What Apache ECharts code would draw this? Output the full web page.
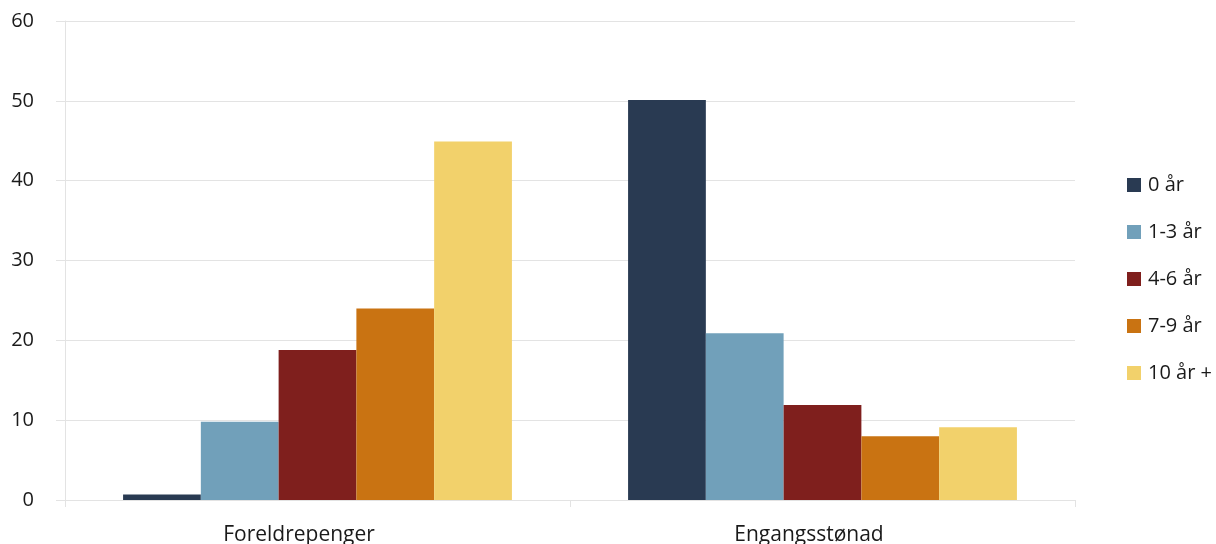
<!DOCTYPE html>
<html>
<head>
<meta charset="utf-8">
<script src="https://cdn.jsdelivr.net/npm/echarts@6/dist/echarts.min.js"></script>
<style>
html,body{margin:0;padding:0;background:#fff;}
#c{width:1216px;height:544px;}
</style>
</head>
<body>
<div id="c"></div>
<script>
const categories = ['Foreldrepenger', 'Engangsstønad'];
const seriesNames = ['0 år', '1-3 år', '4-6 år', '7-9 år', '10 år +'];
const s0 = [0.7, 50.1];
const s1 = [9.8, 20.9];
const s2 = [18.8, 11.9];
const s3 = [24.0, 8.0];
const s4 = [44.9, 9.1];
const colors = ['#293a52', '#71a0ba', '#7f1f1d', '#c97312', '#f2d16b'];
const values = [s0, s1, s2, s3, s4];
const labelShift = [37, 27];

const font = '"Open Sans", "Noto Sans", sans-serif';
const chart = echarts.init(document.getElementById('c'), null, {renderer: 'canvas'});
chart.setOption({
  animation: false,
  textStyle: {fontFamily: font},
  grid: {left: 65, right: 141, top: 21, bottom: 44, containLabel: false, outerBoundsMode: 'none'},
  legend: {
    orient: 'vertical',
    left: 1127,
    top: 175,
    padding: 0,
    itemWidth: 14,
    itemHeight: 14,
    itemGap: 27,
    icon: 'rect',
    textStyle: {fontFamily: font, fontSize: 20, lineHeight: 20, color: '#1a1a1a', padding: [0, 0, 0, 2]},
    data: seriesNames
  },
  xAxis: {
    type: 'category',
    data: categories.map((c, i) => ({value: c, textStyle: {padding: [0, labelShift[i], 0, 0]}})),
    axisLine: {lineStyle: {color: '#e3e3e3', width: 1}},
    axisTick: {show: true, length: 7, lineStyle: {color: '#e3e3e3'}},
    axisLabel: {fontFamily: font, fontSize: 21, color: '#1a1a1a', margin: 25}
  },
  yAxis: {
    type: 'value',
    min: 0, max: 60, interval: 10,
    axisLine: {show: true, lineStyle: {color: '#e3e3e3'}},
    axisTick: {show: true, length: 9, lineStyle: {color: '#e3e3e3'}},
    splitLine: {lineStyle: {color: '#e3e3e3'}},
    axisLabel: {fontFamily: font, fontSize: 20, color: '#1a1a1a', margin: 31}
  },
  series: seriesNames.map((n, i) => ({
    name: n,
    type: 'bar',
    data: values[i],
    itemStyle: {color: colors[i]},
    barGap: '0%',
    barCategoryGap: '23%'
  }))
});
</script>
</body>
</html>
